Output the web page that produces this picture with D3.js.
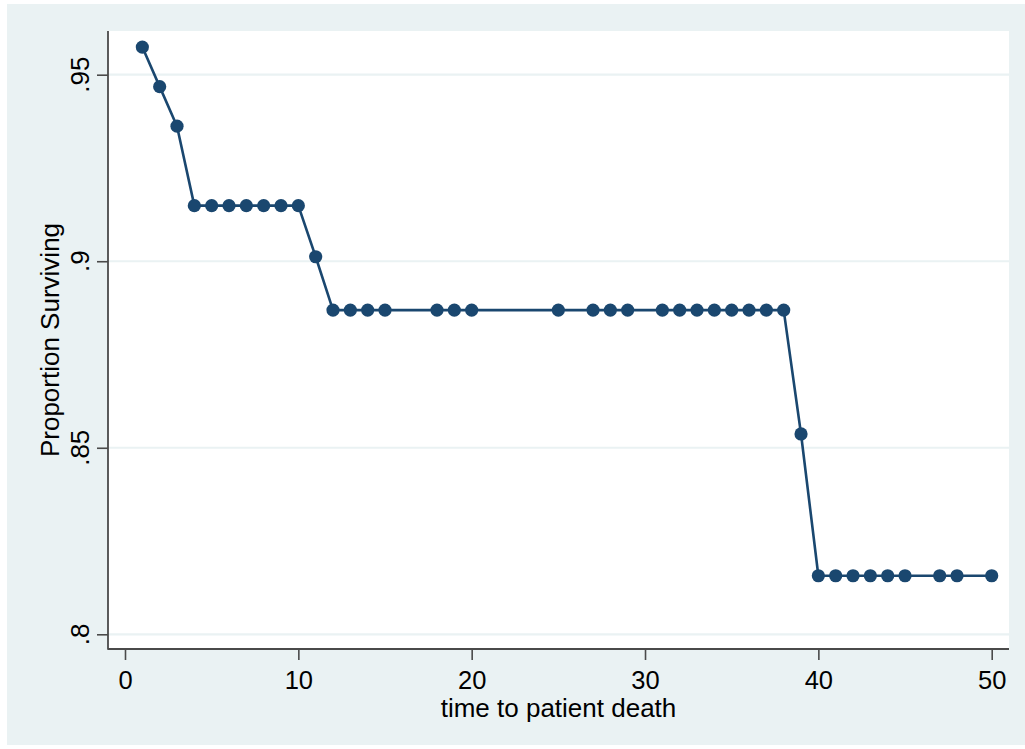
<!DOCTYPE html>
<html>
<head>
<meta charset="utf-8">
<script src="https://cdn.jsdelivr.net/npm/d3@7"></script>
<style>
  html, body { margin: 0; padding: 0; background: #ffffff; }
  svg { display: block; }
  text { font-family: "Liberation Sans", Arial, sans-serif; fill: #000; }
</style>
</head>
<body>
<svg id="chart" width="1025" height="749"></svg>
<script>
// Survival time points and the estimated proportion surviving at each one
const times = [1, 2, 3, 4, 5, 6, 7, 8, 9, 10, 11, 12, 13, 14, 15, 18, 19, 20, 25,
               27, 28, 29, 31, 32, 33, 34, 35, 36, 37, 38, 39, 40, 41, 42, 43, 44, 45,
               47, 48, 50];
const survival = [0.9574, 0.9468, 0.9362, 0.9149, 0.9149, 0.9149, 0.9149, 0.9149, 0.9149, 0.9149,
                  0.9012, 0.8869, 0.8869, 0.8869, 0.8869, 0.8869, 0.8869, 0.8869, 0.8869,
                  0.8869, 0.8869, 0.8869, 0.8869, 0.8869, 0.8869, 0.8869, 0.8869, 0.8869, 0.8869, 0.8869,
                  0.8537, 0.8157, 0.8157, 0.8157, 0.8157, 0.8157, 0.8157,
                  0.8157, 0.8157, 0.8157];
const xTicks = [0, 10, 20, 30, 40, 50];
const yTicks = [0.8, 0.85, 0.9, 0.95];
const yTickLabels = [".8", ".85", ".9", ".95"];
const xTitle = "time to patient death";
const yTitle = "Proportion Surviving";

const svg = d3.select("#chart");
const navy = "#1a476f";
const axisColor = "#4a4a4a";
const gridColor = "#eaf2f3";

// Outer graph region
svg.append("rect")
  .attr("x", 7).attr("y", 4).attr("width", 1018).attr("height", 741)
  .attr("fill", "#eaf2f3");

// Plot region
const plot = { left: 108, top: 31, right: 1009, bottom: 649 };
svg.append("rect")
  .attr("x", plot.left).attr("y", plot.top)
  .attr("width", plot.right - plot.left).attr("height", plot.bottom - plot.top)
  .attr("fill", "#ffffff");

const x = d3.scaleLinear().domain([0, 50]).range([125, 991.7]);
const y = d3.scaleLinear().domain([0.8, 0.95]).range([634.3, 74.7]);

// Horizontal grid lines
svg.append("g").selectAll("line")
  .data(yTicks)
  .join("line")
  .attr("x1", plot.left).attr("x2", plot.right)
  .attr("y1", d => y(d)).attr("y2", d => y(d))
  .attr("stroke", gridColor).attr("stroke-width", 2.2);

// Y axis
const yAxis = svg.append("g")
  .attr("transform", `translate(${plot.left},0)`)
  .call(d3.axisLeft(y).tickValues(yTicks).tickSize(11).tickPadding(0)
        .tickFormat((d, i) => yTickLabels[i]));
yAxis.select(".domain").remove();
yAxis.selectAll(".tick line").attr("stroke", axisColor).attr("stroke-width", 1.6);
yAxis.selectAll(".tick text").remove();
yAxis.append("line")
  .attr("x1", 0).attr("x2", 0).attr("y1", plot.top).attr("y2", plot.bottom + 0.8)
  .attr("stroke", axisColor).attr("stroke-width", 1.8);

// Rotated y tick labels
svg.append("g").selectAll("text")
  .data(yTicks)
  .join("text")
  .attr("transform", d => `translate(88.5,${y(d)}) rotate(-90)`)
  .attr("text-anchor", "middle")
  .attr("font-size", 26)
  .text((d, i) => yTickLabels[i]);

// X axis
const xAxis = svg.append("g")
  .attr("transform", `translate(0,${plot.bottom})`)
  .call(d3.axisBottom(x).tickValues(xTicks).tickSize(11).tickPadding(8)
        .tickFormat(d3.format("d")));
xAxis.select(".domain").remove();
xAxis.selectAll(".tick line").attr("stroke", axisColor).attr("stroke-width", 1.6);
xAxis.selectAll(".tick text")
  .attr("font-size", 25.5)
  .attr("font-family", "\"Liberation Sans\", Arial, sans-serif")
  .attr("fill", "#000")
  .attr("dy", null)
  .attr("y", 39.5);
xAxis.append("line")
  .attr("x1", plot.left).attr("x2", plot.right).attr("y1", 0).attr("y2", 0)
  .attr("stroke", axisColor).attr("stroke-width", 1.8);

// Axis titles
svg.append("text")
  .attr("x", (plot.left + plot.right) / 2).attr("y", 716.5)
  .attr("text-anchor", "middle")
  .attr("font-size", 26)
  .text(xTitle);

svg.append("text")
  .attr("transform", `translate(59,${(plot.top + plot.bottom) / 2}) rotate(-90)`)
  .attr("text-anchor", "middle")
  .attr("font-size", 26)
  .text(yTitle);

// Survival line with markers
const points = times.map((t, i) => [t, survival[i]]);
svg.append("path")
  .datum(points)
  .attr("fill", "none")
  .attr("stroke", navy)
  .attr("stroke-width", 2.6)
  .attr("stroke-linejoin", "round")
  .attr("d", d3.line().x(d => x(d[0])).y(d => y(d[1])));

svg.append("g").selectAll("circle")
  .data(points)
  .join("circle")
  .attr("cx", d => x(d[0]))
  .attr("cy", d => y(d[1]))
  .attr("r", 6.6)
  .attr("fill", navy);
</script>
</body>
</html>
